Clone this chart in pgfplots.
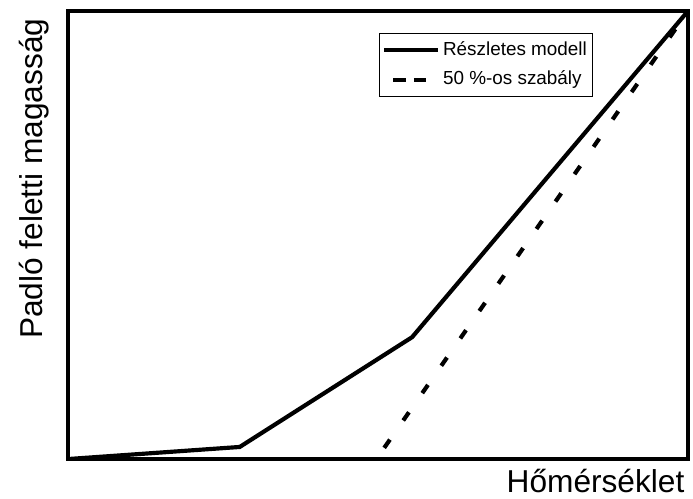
\documentclass[border=0pt]{standalone}
\usepackage{pgfplots}
\pgfplotsset{compat=1.18}
\usepackage{fontspec}
\setmainfont{Liberation Sans}
\pgfplotsset{dashleg/.style={legend image code/.code={\draw[##1, dash pattern=on 4.5pt off 2.9pt] (3.2pt,0pt) -- (15.1pt,0pt);}}}
\begin{document}
\begin{tikzpicture}
\begin{axis}[
 scale only axis, width=223.2pt, height=161.3pt,
 xmin=0,xmax=100,ymin=0,ymax=100,
 xtick=\empty, ytick=\empty,
 axis line style={line width=1.6pt},
 legend style={at={(0.847,0.951)}, anchor=north east, draw=black, line width=0.5pt,
   font=\fontsize{6.8}{8}\selectfont, inner xsep=1pt, inner ysep=0.6pt, row sep=0pt,
   nodes={inner xsep=1pt, inner ysep=2.1pt}},
 legend cell align=left,
 legend image code/.code={\draw[#1] (0pt,0pt) -- (19.4pt,0pt);},
]
\addplot[black, line width=1.5pt] coordinates {(0,0) (27.7,2.7) (55.5,27.2) (100,100)};
\addlegendentry{Részletes modell}
\addplot[black, line width=1.5pt, dash pattern=on 3.6pt off 8.4pt, dashleg]
  coordinates {(51.0,2.5) (100,100)};
\addlegendentry{50 \%-os szabály}
\end{axis}
\node[rotate=90, anchor=base east, font=\fontsize{11.4}{13}\selectfont, inner sep=0pt]
  at ([shift={(-9pt,-2.5pt)}]current axis.north west) {Padló feletti magasság};
\node[anchor=base east, font=\fontsize{11.4}{13}\selectfont, inner sep=0pt]
  at ([shift={(-1.1pt,-11.9pt)}]current axis.south east) {Hőmérséklet};
\path ([shift={(-24.48pt,-14.04pt)}]current axis.south west) rectangle ([shift={(1.8pt,3.96pt)}]current axis.north east);
\end{tikzpicture}
\end{document}
